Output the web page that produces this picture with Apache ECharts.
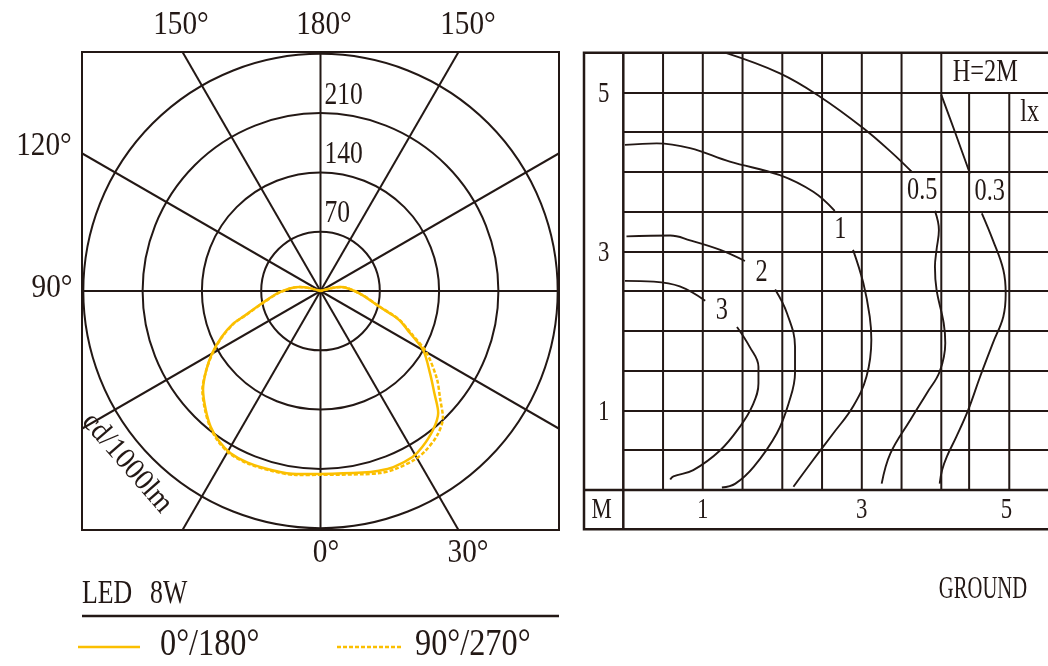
<!DOCTYPE html>
<html><head><meta charset="utf-8">
<script src="https://cdn.jsdelivr.net/npm/echarts@6/dist/echarts.min.js"></script>
<style>html,body{margin:0;padding:0;background:#fff}#c{width:1048px;height:666px}</style>
</head><body><div id="c"></div>
<script>
// ================= DATA =================
// Polar diagram (cd/1000lm)
const radiusTicks = [70, 140, 210];
const radiusMax = 280;
const spokeAngles = [0, 30, 60, 90, 120, 150];
const angleLabels = ['150°', '180°', '150°', '120°', '90°', '0°', '30°'];
const unitLabel = 'cd/1000lm';
const lampTitle = ['LED', '8W'];
const seriesNames = ['0°/180°', '90°/270°'];
// gamma = angle from nadir (deg); left half = C0 / C90, right half = C180 / C270
const gammaLeft  = [0, 7.5, 15, 23, 29, 34, 39, 44, 50, 55, 60, 65, 69.5, 72, 78, 88.5, 101, 105, 110];
const cdC0       = [216, 218, 219, 220, 219, 214, 206, 195, 181, 165, 148, 129, 110, 94, 71, 48, 25, 12, 0];
const cdC90      = [217, 219, 220, 221, 220, 215, 207, 196, 182, 165, 147, 128, 109, 93, 70, 47, 25, 12, 0];
const gammaRight = [0, 13, 18, 22.5, 29, 33, 39, 44, 48, 53, 60, 65, 69.5, 71.5, 75, 86, 101, 105, 110];
const cdC180     = [216, 220, 223, 225, 224, 220, 211, 200, 181, 162, 140, 116, 100, 90, 72, 47, 25, 12, 0];
const cdC270     = [218, 222, 226, 228, 228, 226, 219, 208, 190, 172, 144, 118, 101, 91, 73, 47, 25, 12, 0];

// Isolux diagram (metres, lx), H = 2 m
const isoTitle = 'H=2M';
const isoUnit = 'lx';
const groundLabel = 'GROUND';
const isoAxisUnit = 'M';
const isoYTicks = ['1', '3', '5'];
const isoYTickAt = [1, 3, 5];
const isoXTicks = ['1', '3', '5'];
const isoXTickAt = [1, 3, 4.82];
const isoGridXFull = [0.5, 1, 1.5, 2, 2.5, 3, 3.5, 4];
const isoGridXShort = [4.35, 4.855];
const iso3a = [[0.02, 2.63], [0.38, 2.62], [0.71, 2.56], [1.03, 2.38]];
const iso3b = [[1.43, 2.05], [1.59, 1.80], [1.70, 1.55], [1.70, 1.34], [1.62, 1.05], [1.47, 0.80], [1.22, 0.50], [0.88, 0.25], [0.63, 0.17], [0.59, 0.13]];
const iso2a = [[0.04, 3.19], [0.59, 3.20], [0.84, 3.14], [1.22, 3.02], [1.53, 2.88]];
const iso2b = [[1.91, 2.52], [2.06, 2.22], [2.16, 1.80], [2.16, 1.47], [2.08, 1.09], [1.93, 0.71], [1.64, 0.29], [1.41, 0.08], [1.24, 0.03]];
const iso1a = [[0.02, 4.34], [0.42, 4.36], [0.84, 4.30], [1.34, 4.13], [1.97, 3.96], [2.39, 3.75], [2.66, 3.51]];
const iso1b = [[2.89, 3.02], [3.02, 2.60], [3.10, 2.18], [3.12, 1.89], [3.06, 1.43], [2.89, 1.05], [2.64, 0.71], [2.39, 0.38], [2.14, 0.04]];
const iso05a = [[1.28, 5.50], [1.97, 5.24], [2.47, 4.95], [3.02, 4.55], [3.38, 4.24], [3.63, 4.00]];
const iso05b = [[3.92, 3.51], [3.97, 3.27], [3.94, 3.02], [3.92, 2.81], [3.94, 2.52], [4.03, 2.10], [4.05, 1.85], [3.98, 1.49], [3.82, 1.22], [3.61, 0.88], [3.36, 0.46], [3.25, 0.08]];
const iso03a = [[4.00, 4.97], [4.18, 4.48], [4.36, 3.98]];
const iso03b = [[4.51, 3.48], [4.65, 3.14], [4.78, 2.77], [4.81, 2.47], [4.78, 2.18], [4.65, 1.85], [4.49, 1.43], [4.34, 1.01], [4.19, 0.67], [4.07, 0.42], [4.01, 0.25], [3.98, 0.08]];
const isoLevels = ['3', '2', '1', '0.5', '0.3'];
const isoLabelAt = [[1.24, 2.25], [1.74, 2.74], [2.73, 3.27], [3.76, 3.77], [4.61, 3.75]];

// ================= LAYOUT / STYLE =================
const INK = '#231815', YEL = '#FBBF00';
const FONT = '"Liberation Serif", serif';
const SX = 0.76;
const PC = {cx: 320.5, cy: 291, r: 237.2};
const BOX = {l: 82, t: 52, w: 477, h: 478};
const ISO = {l: 623.3, t: 52.7, pxm: 79.5, boxL: 584, bottom: 529.3, right: 1048};
const isoXMax = (ISO.right - ISO.l) / ISO.pxm;

function T(x, y, text, size, align, vAlign, extra) {
  return Object.assign({
    type: 'text', x: x, y: y, scaleX: SX, z: 100, silent: true,
    style: {text: text, x: 0, y: 0, font: size + 'px ' + FONT, fill: INK,
      align: align || 'center', verticalAlign: vAlign || 'middle',
      textAlign: align || 'center', textVerticalAlign: vAlign || 'middle'}
  }, extra || {});
}

const chart = echarts.init(document.getElementById('c'));

const series = [];
// spokes through the pole, clipped by the square frame
const L = 600;
spokeAngles.forEach(function (a) {
  const s = Math.sin(a * Math.PI / 180), c = Math.cos(a * Math.PI / 180);
  series.push({type: 'line', xAxisIndex: 0, yAxisIndex: 0, silent: true, showSymbol: false, clip: true,
    data: [[L * s, L * c], [-L * s, -L * c]], lineStyle: {color: INK, width: 2}, z: 1});
});
function polarCurve(left, right) {
  const d = [];
  for (let i = gammaLeft.length - 1; i >= 0; i--) d.push([left[i], gammaLeft[i]]);
  for (let i = 1; i < gammaRight.length; i++) d.push([right[i], 360 - gammaRight[i]]);
  return d;
}
const solidIdx = series.length;
series.push({name: seriesNames[0], type: 'line', coordinateSystem: 'polar', polarIndex: 0, showSymbol: false, silent: true,
  smooth: 0.3, data: polarCurve(cdC0, cdC180), lineStyle: {color: YEL, width: 2.5}, z: 6});
series.push({name: seriesNames[1], type: 'line', coordinateSystem: 'polar', polarIndex: 0, showSymbol: false, silent: true,
  smooth: 0.3, data: polarCurve(cdC90, cdC270), lineStyle: {color: YEL, width: 2.5, type: [4, 2]}, z: 5});

// isolux grid verticals
isoGridXFull.forEach(function (x) {
  series.push({type: 'line', xAxisIndex: 1, yAxisIndex: 1, silent: true, showSymbol: false,
    data: [[x, 0], [x, 5.5]], lineStyle: {color: INK, width: 2}, z: 1});
});
isoGridXShort.forEach(function (x) {
  series.push({type: 'line', xAxisIndex: 1, yAxisIndex: 1, silent: true, showSymbol: false,
    data: [[x, 0], [x, 5]], lineStyle: {color: INK, width: 2}, z: 1});
});
[iso3a, iso3b, iso2a, iso2b, iso1a, iso1b, iso05a, iso05b, iso03a, iso03b].forEach(function (seg) {
  series.push({type: 'line', xAxisIndex: 1, yAxisIndex: 1, silent: true, showSymbol: false, smooth: 0.4,
    data: seg, lineStyle: {color: INK, width: 1.9}, z: 4});
});

chart.setOption({
  animation: false,
  backgroundColor: '#fff',
  grid: [
    {left: BOX.l, top: BOX.t, width: BOX.w, height: BOX.h, show: true, borderColor: INK, borderWidth: 2, backgroundColor: 'transparent'},
    {left: ISO.l, top: ISO.t, width: ISO.right - ISO.l, height: 5.5 * ISO.pxm, show: false}
  ],
  xAxis: [
    {gridIndex: 0, type: 'value', min: -(BOX.w / 2) * radiusMax / PC.r, max: (BOX.w / 2) * radiusMax / PC.r, show: false},
    {gridIndex: 1, type: 'value', min: 0, max: isoXMax, show: false}
  ],
  yAxis: [
    {gridIndex: 0, type: 'value', min: -(BOX.h / 2) * radiusMax / PC.r, max: (BOX.h / 2) * radiusMax / PC.r, show: false},
    {gridIndex: 1, type: 'value', min: 0, max: 5.5, interval: 0.5, axisLine: {show: false}, axisTick: {show: false},
      axisLabel: {show: false}, splitLine: {show: true, lineStyle: {color: INK, width: 2}}}
  ],
  polar: {center: [PC.cx, PC.cy], radius: PC.r},
  angleAxis: {type: 'value', min: 0, max: 360, startAngle: 270, clockwise: true,
    axisLine: {show: false}, axisTick: {show: false}, axisLabel: {show: false}, splitLine: {show: false}},
  radiusAxis: {type: 'value', min: 0, max: radiusMax, interval: 70,
    axisLine: {show: false}, axisTick: {show: false}, axisLabel: {show: false},
    splitLine: {show: true, lineStyle: {color: INK, width: 2}}},
  series: series
});

// ---------- text & frame graphics ----------
const g = [];
radiusTicks.forEach(function (r) {
  const p = chart.convertToPixel({seriesIndex: solidIdx}, [r, 180]);
  g.push(T(p[0] + 4, p[1] - 2, String(r), 32, 'left', 'bottom', {scaleX: 0.8}));
});
const angleLabelPos = [[181, 25], [324, 25], [468, 25], [44, 146], [52, 288], [326, 553], [468, 553]];
angleLabels.forEach(function (t, i) { g.push(T(angleLabelPos[i][0], angleLabelPos[i][1], t, 34, 'center', 'middle', {scaleX: 0.86})); });
g.push(T(127, 463, unitLabel, 30, 'center', 'middle', {rotation: -49 * Math.PI / 180, scaleX: 0.95}));
g.push(T(82, 594, lampTitle[0], 34, 'left'));
g.push(T(150, 594, lampTitle[1], 34, 'left'));
g.push({type: 'line', z: 100, silent: true, shape: {x1: 82, y1: 616, x2: 559, y2: 616}, style: {stroke: INK, lineWidth: 2.5}});
g.push({type: 'line', z: 100, silent: true, shape: {x1: 78, y1: 647, x2: 140, y2: 647}, style: {stroke: YEL, lineWidth: 2.5}});
g.push(T(160, 645, seriesNames[0], 38, 'left', 'middle', {scaleX: 0.85}));
g.push({type: 'line', z: 100, silent: true, shape: {x1: 337, y1: 647, x2: 402, y2: 647}, style: {stroke: YEL, lineWidth: 2.5, lineDash: [4, 2]}});
g.push(T(415, 645, seriesNames[1], 38, 'left', 'middle', {scaleX: 0.85}));
g.push({type: 'rect', z: 50, silent: true, shape: {x: ISO.boxL, y: ISO.t, width: 700, height: ISO.bottom - ISO.t}, style: {fill: 'none', stroke: INK, lineWidth: 2.5}});
g.push({type: 'line', z: 50, silent: true, shape: {x1: ISO.l, y1: ISO.t, x2: ISO.l, y2: ISO.bottom}, style: {stroke: INK, lineWidth: 2.5}});
const y0 = chart.convertToPixel({gridIndex: 1}, [0, 0]);
g.push({type: 'line', z: 50, silent: true, shape: {x1: ISO.boxL, y1: y0[1], x2: 1200, y2: y0[1]}, style: {stroke: INK, lineWidth: 2.5}});
const colX = (ISO.boxL + ISO.l) / 2, rowY = (y0[1] + ISO.bottom) / 2;
isoYTicks.forEach(function (t, i) {
  const p = chart.convertToPixel({gridIndex: 1}, [0, isoYTickAt[i]]);
  g.push(T(colX, p[1] + 2, t, 30));
});
isoXTicks.forEach(function (t, i) {
  const p = chart.convertToPixel({gridIndex: 1}, [isoXTickAt[i], 0]);
  g.push(T(p[0], rowY, t, 30));
});
g.push(T(colX - 2, rowY, isoAxisUnit, 30));
isoLevels.forEach(function (t, i) {
  const p = chart.convertToPixel({gridIndex: 1}, isoLabelAt[i]);
  g.push(T(p[0], p[1], t, 32));
});
const hc = chart.convertToPixel({gridIndex: 1}, [4, 5.25]);
g.push(T(hc[0] + 44, hc[1], isoTitle, 32));
const lc = chart.convertToPixel({gridIndex: 1}, [4.855, 4.75]);
g.push(T(lc[0] + 11, lc[1], isoUnit, 32, 'left'));
g.push(T(983, 590, groundLabel, 32, 'center', 'middle', {scaleX: 0.645}));

chart.setOption({graphic: {elements: g}});
</script>
</body></html>
